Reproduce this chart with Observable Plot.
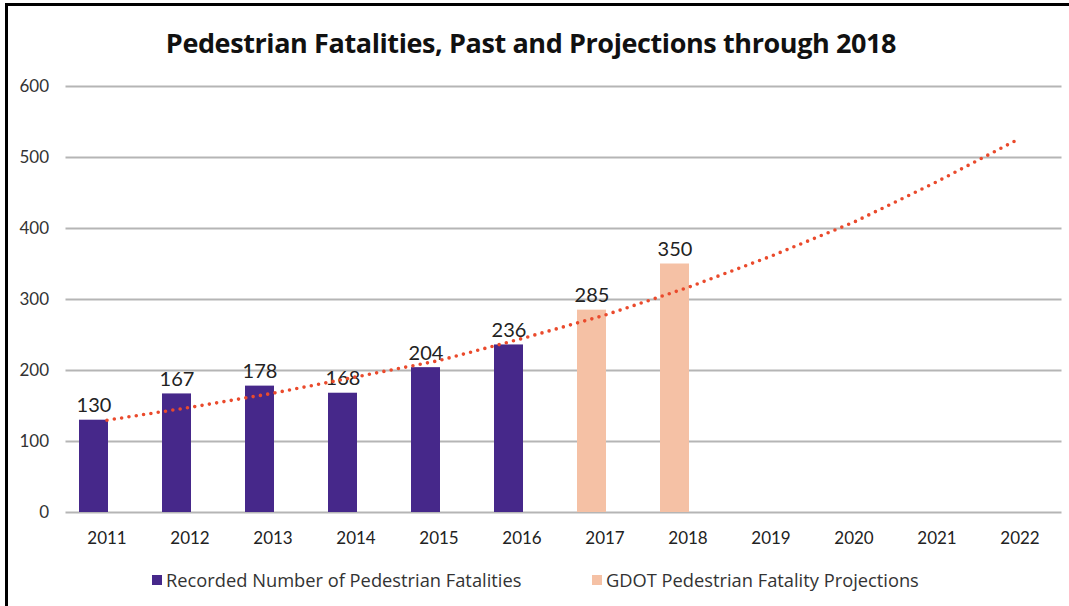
<!DOCTYPE html>
<html>
<head>
<meta charset="utf-8">
<script src="https://cdn.jsdelivr.net/npm/d3@7"></script>
<script src="https://cdn.jsdelivr.net/npm/@observablehq/plot@0.6"></script>
<style>
  html, body { margin: 0; padding: 0; background: #fff; }
  body { width: 1069px; height: 606px; overflow: hidden; position: relative; font-family: Lato, "Open Sans", sans-serif; }
  #frame { position: absolute; left: 5px; top: 3px; width: 1070px; height: 610px; border-left: 3px solid #000; border-top: 3px solid #000; }
  #title { position: absolute; top: 24px; left: 0; width: 1062px; text-align: center; font-family: "Open Sans", sans-serif; font-weight: 700; font-size: 27px; color: #111; letter-spacing: -0.4px; }
  #chart { position: absolute; left: 0; top: 70px; }
  #legend { position: absolute; top: 567px; left: 0; width: 1069px; font-family: "Open Sans", sans-serif; font-size: 18.3px; color: #333; }
  .item { position: absolute; display: flex; align-items: center; white-space: nowrap; }
  .sw { width: 10px; height: 10px; margin-right: 4px; }
</style>
</head>
<body>
<div id="frame"></div>
<div id="title">Pedestrian Fatalities, Past and Projections through 2018</div>
<div id="chart"></div>
<div id="legend"></div>
<script>
const years = ["2011","2012","2013","2014","2015","2016","2017","2018","2019","2020","2021","2022"];
const recordedYears = ["2011","2012","2013","2014","2015","2016"];
const recordedValues = [130, 167, 178, 168, 204, 236];
const projectedYears = ["2017","2018"];
const projectedValues = [285, 350];
const trendValues = [130, 148, 168, 191, 214, 245, 278, 317, 361, 409, 466, 527];
const yTicks = [0, 100, 200, 300, 400, 500, 600];
const seriesNames = ["Recorded Number of Pedestrian Fatalities", "GDOT Pedestrian Fatality Projections"];
const colors = ["#46288a", "#f5c1a5"];
const trendColor = "#ea4a2c";

const recorded = recordedYears.map((y, i) => ({year: y, value: recordedValues[i]}));
const projected = projectedYears.map((y, i) => ({year: y, value: projectedValues[i]}));
const trend = years.map((y, i) => ({year: y, value: trendValues[i]}));

const barOffset = -13;

const chart = Plot.plot({
  width: 1069,
  height: 482,
  marginLeft: 65.5,
  marginRight: 7.5,
  marginTop: 16,
  marginBottom: 40,
  style: {fontFamily: "Lato, 'Open Sans', sans-serif", background: "transparent"},
  x: {type: "band", domain: years, paddingInner: 0.65, paddingOuter: 0.325, label: null, tickSize: 0, tickPadding: 19},
  y: {domain: [0, 600], ticks: yTicks, label: null, tickSize: 0, tickPadding: 17},
  marks: [
    Plot.ruleY(yTicks, {stroke: "#b5b5b5", strokeWidth: 2}),
    Plot.barY(recorded, {x: "year", y: "value", fill: colors[0], dx: barOffset}),
    Plot.barY(projected, {x: "year", y: "value", fill: colors[1], dx: barOffset}),
    Plot.text(recorded, {x: "year", y: "value", text: d => String(d.value), dx: barOffset, dy: -8, lineAnchor: "bottom", fontSize: 20, fill: "#222"}),
    Plot.text(projected, {x: "year", y: "value", text: d => String(d.value), dx: barOffset, dy: -8, lineAnchor: "bottom", fontSize: 20, fill: "#222"}),
    Plot.line(trend, {x: "year", y: "value", stroke: trendColor, strokeWidth: 3.6, strokeDasharray: "0 7.4", strokeLinecap: "round"}),
    Plot.axisX({tickSize: 0, tickPadding: 19, fontSize: 17, fill: "#222", label: null}),
    Plot.axisY({ticks: yTicks, tickSize: 0, tickPadding: 17, fontSize: 17, fill: "#333", label: null})
  ]
});
document.getElementById("chart").appendChild(chart);

const legend = document.getElementById("legend");
const lefts = [152, 592];
seriesNames.forEach((name, i) => {
  const it = document.createElement("div");
  it.className = "item";
  it.style.left = lefts[i] + "px";
  const sw = document.createElement("span");
  sw.className = "sw";
  sw.style.background = colors[i];
  const tx = document.createElement("span");
  tx.textContent = name;
  it.appendChild(sw);
  it.appendChild(tx);
  legend.appendChild(it);
});
</script>
</body>
</html>
